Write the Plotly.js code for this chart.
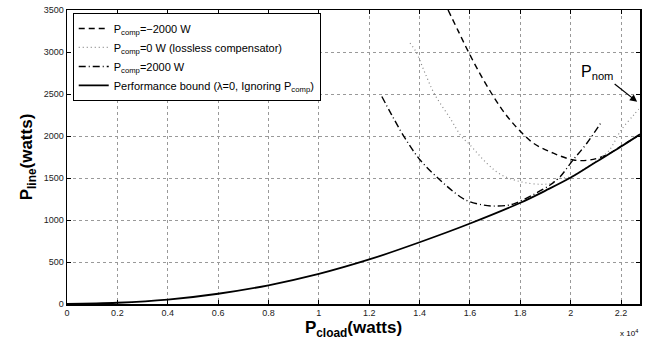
<!DOCTYPE html>
<html>
<head>
<meta charset="utf-8">
<script src="https://cdn.plot.ly/plotly-3.0.1.min.js"></script>
<style>html,body{margin:0;padding:0;background:#fff;}#chart{width:650px;height:343px;}</style>
</head>
<body>
<div id="chart"></div>
<script>
// Data (x in watts, y in watts)
const dashedX = [15130,15540,15940,16400,16870,17260,17590,17920,18520,19310,20110,20770,21430,22000,22620];
const dashedY = [3500,3246,3000,2740,2500,2320,2192,2081,1914,1795,1715,1715,1775,1880,1993];

const dottedX = [13620,13860,14200,14590,15210,15650,16000,16670,17200,18000,18800,19200,19500,20000,20500,21000,21500,22000,22500,22700];
const dottedY = [3107,3000,2760,2500,2212,2000,1894,1675,1545,1456,1425,1436,1490,1515,1600,1700,1820,2070,2250,2320];

const dashdotX = [12500,12890,13420,14020,14810,15610,16000,16500,16930,17500,17790,18500,19180,19580,20040,20640,21230];
const dashdotY = [2470,2252,1974,1715,1476,1277,1217,1180,1166,1175,1198,1300,1417,1516,1695,1914,2172];

const boundX = [0,2000,4000,6000,8000,10000,12000,14000,16000,18000,19000,20000,21000,22000,22750];
const boundY = [0,15,52,122,223,358,530,735,958,1205,1350,1505,1690,1875,2020];

const names = [
  'P<sub>comp</sub>=\u22122000 W',
  'P<sub>comp</sub>=0 W (lossless compensator)',
  'P<sub>comp</sub>=2000 W',
  'Performance bound (\u03bb=0, Ignoring P<sub>comp</sub>)'
];

const xTickVals = [0,2000,4000,6000,8000,10000,12000,14000,16000,18000,20000,22000];
const xTickText = ['0','0.2','0.4','0.6','0.8','1','1.2','1.4','1.6','1.8','2','2.2'];
const yTickVals = [0,500,1000,1500,2000,2500,3000,3500];

const FONT = 'Liberation Sans, Arial, Helvetica, sans-serif';

const traces = [
  {x: dashedX, y: dashedY, name: names[0], mode: 'lines', line: {color: '#000', width: 1.4, dash: '6px,4px', shape: 'spline'}},
  {x: dottedX, y: dottedY, name: names[1], mode: 'lines', line: {color: '#888', width: 1.2, dash: '1px,3px', shape: 'spline'}},
  {x: dashdotX, y: dashdotY, name: names[2], mode: 'lines', line: {color: '#000', width: 1.4, dash: '7px,3px,1px,3px', shape: 'spline'}},
  {x: boundX, y: boundY, name: names[3], mode: 'lines', line: {color: '#000', width: 1.8, shape: 'spline'}}
];

const layout = {
  width: 650, height: 343,
  margin: {l: 67, r: 10, t: 10, b: 39},
  paper_bgcolor: '#fff', plot_bgcolor: '#fff',
  font: {family: FONT, color: '#000', size: 9},
  showlegend: true,
  legend: {
    x: 0.01, y: 0.99, xanchor: 'left', yanchor: 'top',
    bgcolor: '#fff', bordercolor: '#000', borderwidth: 1,
    font: {family: FONT, size: 11, color: '#000'},
    tracegroupgap: 0
  },
  xaxis: {
    range: [0, 22750], tickvals: xTickVals, ticktext: xTickText,
    ticks: 'inside', ticklen: 4, tickcolor: '#000', tickwidth: 1,
    showline: true, linecolor: '#000', linewidth: 1.5, mirror: 'ticks',
    showgrid: true, gridcolor: '#999', griddash: 'dot', gridwidth: 1,
    zeroline: false, tickfont: {size: 9, color: '#222'},
    title: {text: '<b>P<sub>cload</sub>(watts)</b>', font: {family: FONT, size: 17, color: '#000'}, standoff: 4},
    automargin: false
  },
  yaxis: {
    range: [0, 3500], tickvals: yTickVals,
    ticks: 'inside', ticklen: 4, tickcolor: '#000', tickwidth: 1,
    showline: true, linecolor: '#000', linewidth: 1.5, mirror: 'ticks',
    showgrid: true, gridcolor: '#999', griddash: 'dot', gridwidth: 1,
    zeroline: false, tickfont: {size: 9, color: '#222'},
    title: {text: '<b>P<sub>line</sub>(watts)</b>', font: {family: FONT, size: 17, color: '#000'}, standoff: 6},
    automargin: false
  },
  annotations: [
    {xref: 'paper', yref: 'paper', x: 1, y: 0, xanchor: 'right', yanchor: 'top', yshift: -22,
     text: 'x 10<sup>4</sup>', showarrow: false, font: {family: FONT, size: 8, color: '#000'}},
    {x: 21050, y: 2753, text: 'P<sub>nom</sub>', showarrow: false, font: {family: FONT, size: 16, color: '#000'}},
    {x: 22637, y: 2407, ax: 21684, ay: 2634, axref: 'x', ayref: 'y', text: '', showarrow: true,
     arrowhead: 2, arrowsize: 1.2, arrowwidth: 1.2, arrowcolor: '#000'}
  ]
};

Plotly.newPlot('chart', traces, layout, {displayModeBar: false, staticPlot: true});
</script>
</body>
</html>
